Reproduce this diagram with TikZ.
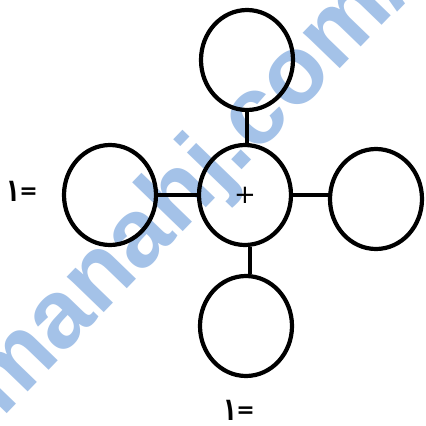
\documentclass[tikz,border=0pt]{standalone}
\usepackage{fontspec}
\usetikzlibrary{shapes.geometric}
\newfontfamily\arfont{DejaVu Sans}
\newfontfamily\wmfont{Liberation Sans}
\definecolor{wmblue}{HTML}{A4C2E8}
\newcommand{\tallone}{\raisebox{-3pt}{\scalebox{1}[1.45]{١}}}
\tikzset{
  ring/.style={draw=black, line width=4.2pt, ellipse, minimum width=92pt, minimum height=100pt, inner sep=0pt},
  link/.style={draw=black, line width=4pt},
  eqlabel/.style={font=\arfont\bfseries\fontsize{22}{22}\selectfont, inner sep=0pt},
  watermark/.style={font=\wmfont\bfseries\fontsize{97}{97}\selectfont, text=wmblue, rotate=46, inner sep=0pt}
}
\begin{document}
\begin{tikzpicture}[x=1pt,y=-1pt]
\useasboundingbox (0,0) rectangle (426,426);
\fill[white] (0,0) rectangle (426,426);
\node[watermark] (wm) at (190,188) {manahj.com/};
\node[ring] (c) at (245,195) {};
\node[ring] (t) at (247,60) {};
\node[ring] (l) at (110,195) {};
\node[ring] (r) at (376,199) {};
\node[ring] (b) at (246,326) {};
\draw[link] (t.south) -- (t.south |- c.north);
\draw[link] (l.east) -- (c.west);
\draw[link] (c.east) -- (c.east -| r.west);
\draw[link] ([xshift=4pt]b.north) -- ([xshift=4pt]b.north |- c.south);
\node[font=\arfont\fontsize{26}{26}\selectfont, inner sep=0pt] (plus) at (245,195) {+};
\node[eqlabel] (la) at (22,191) {\tallone=};
\node[eqlabel] (lb) at (239,410) {\tallone=};
\end{tikzpicture}
\end{document}
